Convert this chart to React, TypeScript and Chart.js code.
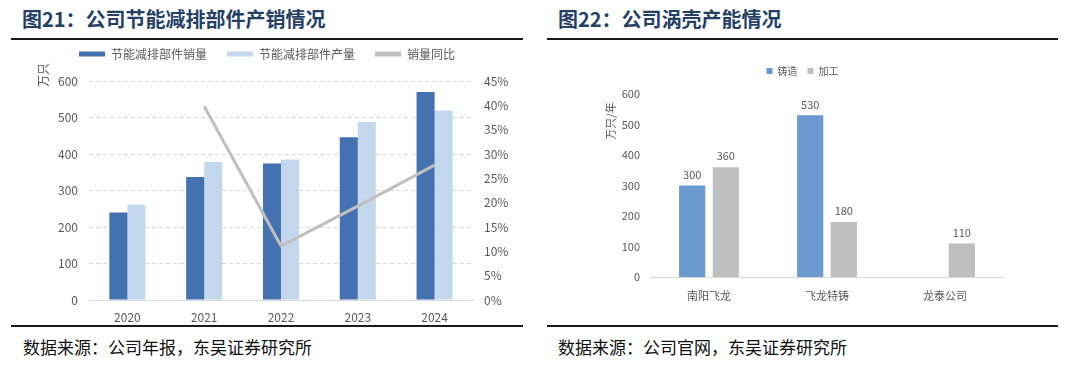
import React, { useEffect, useRef } from "react";
import { Chart, registerables } from "chart.js";

Chart.register(...registerables);

// ---------- Data: Figure 21 ----------
const years = ["2020", "2021", "2022", "2023", "2024"];
const salesVolume = [240, 337, 374, 446, 570];
const productionVolume = [261, 378, 385, 488, 519];
const salesYoY = [null, 39.8, 11.1, 19.3, 27.7];
const leftTicksLabel = "万只";
const fig21Title = "图21：公司节能减排部件产销情况";
const fig21Source = "数据来源：公司年报，东吴证券研究所";
const fig21Legend = ["节能减排部件销量", "节能减排部件产量", "销量同比"];

// ---------- Data: Figure 22 ----------
const companies = ["南阳飞龙", "飞龙特铸", "龙泰公司"];
const casting = [300, 530, null];
const machining = [360, 180, 110];
const fig22Legend = ["铸造", "加工"];
const rightUnitLabel = "万只/年";
const fig22Title = "图22：公司涡壳产能情况";
const fig22Source = "数据来源：公司官网，东吴证券研究所";

const FONT = "'Noto Sans CJK SC', 'Noto Sans', sans-serif";
const TXT = "#595959";

const legendGap = (extra: number) => ({
  id: "legendGap",
  beforeInit(chart: any) {
    const legend = chart.legend;
    if (!legend) return;
    const orig = legend.fit;
    legend.fit = function () {
      orig.call(this);
      this.height += extra;
    };
  },
});

const yTitle = (text: string, size: number, dx: number, dy: number) => ({
  id: "yTitle",
  afterDraw(chart: any) {
    const { ctx, chartArea } = chart;
    ctx.save();
    ctx.translate(chartArea.left + dx, chartArea.top + dy);
    ctx.rotate(-Math.PI / 2);
    ctx.font = `${size}px ${FONT}`;
    ctx.fillStyle = TXT;
    ctx.textAlign = "center";
    ctx.textBaseline = "middle";
    ctx.fillText(text, 0, 0);
    ctx.restore();
  },
});

const valueLabels = {
  id: "valueLabels",
  afterDatasetsDraw(chart: any) {
    const { ctx } = chart;
    ctx.save();
    ctx.font = `11px ${FONT}`;
    ctx.fillStyle = TXT;
    ctx.textAlign = "center";
    ctx.textBaseline = "middle";
    chart.data.datasets.forEach((ds: any, i: number) => {
      const meta = chart.getDatasetMeta(i);
      meta.data.forEach((el: any, j: number) => {
        const v = ds.data[j];
        if (v === null || v === undefined) return;
        ctx.fillText(String(v), el.x, el.y - 11);
      });
    });
    ctx.restore();
  },
};

function noBorderLabels(chart: any) {
  const items = Chart.defaults.plugins.legend.labels.generateLabels(chart);
  return items.map((it: any) => ({ ...it, lineWidth: 0, strokeStyle: "rgba(0,0,0,0)" }));
}

function LeftChart() {
  const ref = useRef<HTMLCanvasElement>(null);
  useEffect(() => {
    if (!ref.current) return;
    const chart = new Chart(ref.current, {
      type: "bar",
      data: {
        labels: years,
        datasets: [
          {
            type: "bar",
            label: fig21Legend[0],
            data: salesVolume,
            backgroundColor: "#4472b0",
            borderWidth: 0,
            yAxisID: "y",
            order: 1,
            barPercentage: 1,
            categoryPercentage: 0.47,
          },
          {
            type: "bar",
            label: fig21Legend[1],
            data: productionVolume,
            backgroundColor: "#c3d7ed",
            borderWidth: 0,
            yAxisID: "y",
            order: 1,
            barPercentage: 1,
            categoryPercentage: 0.47,
          },
          {
            type: "line",
            label: fig21Legend[2],
            data: salesYoY as any,
            borderColor: "#bfbfbf",
            backgroundColor: "#bfbfbf",
            borderWidth: 3,
            pointRadius: 0,
            tension: 0,
            yAxisID: "y1",
            order: 0,
          } as any,
        ],
      },
      options: {
        responsive: false,
        animation: false,
        layout: { padding: 0 },
        plugins: {
          legend: {
            display: true,
            position: "top",
            labels: {
              boxWidth: 26,
              boxHeight: 5,
              padding: 20,
              color: TXT,
              font: { family: FONT, size: 12 },
              sort: (a: any, b: any) => a.datasetIndex - b.datasetIndex,
              generateLabels: noBorderLabels,
            },
          },
          tooltip: { enabled: false },
        },
        scales: {
          x: {
            grid: { display: false, drawTicks: false },
            border: { display: true, color: "#d9d9d9", width: 1 },
            ticks: { color: TXT, font: { family: FONT, size: 12 }, padding: 10 },
            afterFit: (s: any) => {
              s.height = 24;
            },
          },
          y: {
            position: "left",
            min: 0,
            max: 600,
            ticks: { stepSize: 100, color: TXT, font: { family: FONT, size: 12 }, padding: 11 },
            grid: { color: "#d9d9d9", lineWidth: 1, drawTicks: false },
            border: { display: false, dash: [4, 3] },
            afterFit: (s: any) => {
              s.width = 78;
            },
          },
          y1: {
            position: "right",
            min: 0,
            max: 45,
            ticks: {
              stepSize: 5,
              color: TXT,
              font: { family: FONT, size: 12 },
              padding: 11,
              callback: (v: any) => `${Math.round(Number(v))}%`,
            },
            grid: { display: false, drawTicks: false },
            border: { display: false },
            afterFit: (s: any) => {
              s.width = 50;
            },
          },
        },
      } as any,
      plugins: [legendGap(11), yTitle(leftTicksLabel, 12, -46, -6)],
    });
    return () => chart.destroy();
  }, []);
  return (
    <canvas
      ref={ref}
      width={512}
      height={296}
      style={{ position: "absolute", left: 11, top: 28, width: 512, height: 296 }}
    />
  );
}

function RightChart() {
  const ref = useRef<HTMLCanvasElement>(null);
  useEffect(() => {
    if (!ref.current) return;
    const chart = new Chart(ref.current, {
      type: "bar",
      data: {
        labels: companies,
        datasets: [
          {
            label: fig22Legend[0],
            data: casting as any,
            backgroundColor: "#6a9ad0",
            borderWidth: 0,
            barPercentage: 0.78,
            categoryPercentage: 0.57,
            yAxisID: "y",
          },
          {
            label: fig22Legend[1],
            data: machining,
            backgroundColor: "#bfbfbf",
            borderWidth: 0,
            barPercentage: 0.78,
            categoryPercentage: 0.57,
            yAxisID: "y",
          },
        ],
      },
      options: {
        responsive: false,
        animation: false,
        layout: { padding: 0 },
        plugins: {
          legend: {
            display: true,
            position: "top",
            labels: {
              boxWidth: 6,
              boxHeight: 6,
              padding: 10,
              color: TXT,
              font: { family: FONT, size: 10 },
              generateLabels: noBorderLabels,
            },
          },
          tooltip: { enabled: false },
        },
        scales: {
          x: {
            grid: { display: false, drawTicks: false },
            border: { display: true, color: "#d9d9d9", width: 1 },
            ticks: { color: TXT, font: { family: FONT, size: 11 }, padding: 12 },
            afterFit: (s: any) => {
              s.height = 47;
            },
          },
          y: {
            position: "left",
            min: 0,
            max: 600,
            ticks: { stepSize: 100, color: TXT, font: { family: FONT, size: 11 }, padding: 10 },
            grid: { display: false, drawTicks: false },
            border: { display: false },
            afterFit: (s: any) => {
              s.width = 103;
            },
          },
          spacer: {
            type: "linear",
            position: "right",
            display: true,
            ticks: { display: false },
            grid: { display: false, drawTicks: false },
            border: { display: false },
            afterFit: (s: any) => {
              s.width = 54;
            },
          },
        },
      } as any,
      plugins: [legendGap(8), yTitle(rightUnitLabel, 11, -39, 27), valueLabels],
    });
    return () => chart.destroy();
  }, []);
  return (
    <canvas
      ref={ref}
      width={511}
      height={268}
      style={{ position: "absolute", left: 547, top: 56, width: 511, height: 268 }}
    />
  );
}

const titleStyle = (left: number): React.CSSProperties => ({
  position: "absolute",
  left,
  top: 5,
  fontFamily: FONT,
  fontWeight: 700,
  fontSize: 20,
  lineHeight: "28px",
  color: "#253f66",
  whiteSpace: "nowrap",
});

const sourceStyle = (left: number): React.CSSProperties => ({
  position: "absolute",
  left,
  top: 334,
  fontFamily: FONT,
  fontWeight: 400,
  fontSize: 17,
  lineHeight: "26px",
  color: "#111",
  whiteSpace: "nowrap",
});

const rule = (left: number, width: number, top: number): React.CSSProperties => ({
  position: "absolute",
  left,
  width,
  top,
  height: 2,
  background: "#1a1a1a",
});

export default function App() {
  return (
    <div
      style={{
        position: "fixed",
        left: 0,
        top: 0,
        width: 1080,
        height: 370,
        background: "#fff",
        overflow: "hidden",
      }}
    >
      <div style={titleStyle(22)}>{fig21Title}</div>
      <div style={titleStyle(558)}>{fig22Title}</div>
      <div style={rule(11, 512, 38)} />
      <div style={rule(547, 511, 38)} />
      <LeftChart />
      <RightChart />
      <div style={rule(11, 512, 325)} />
      <div style={rule(547, 511, 325)} />
      <div style={sourceStyle(23)}>{fig21Source}</div>
      <div style={sourceStyle(558)}>{fig22Source}</div>
    </div>
  );
}
